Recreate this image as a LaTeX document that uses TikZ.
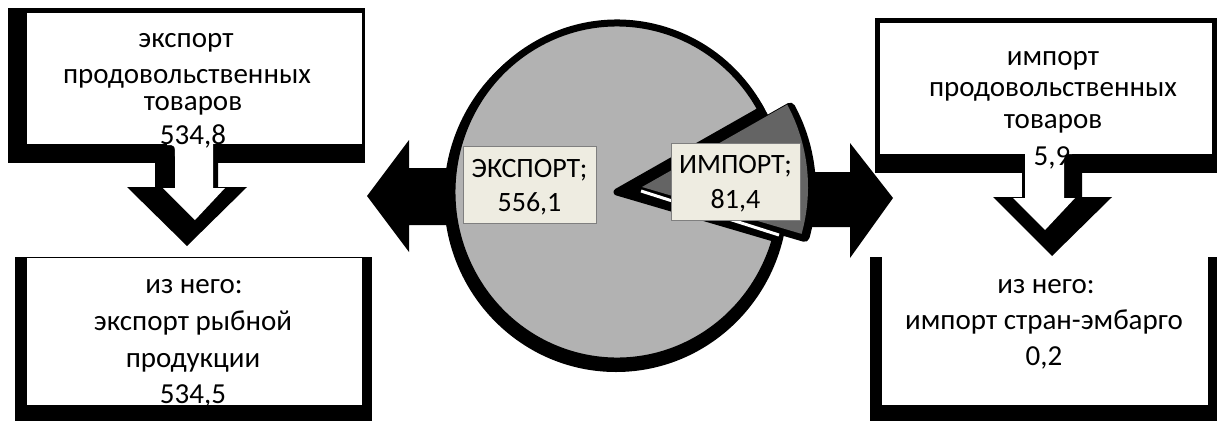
\documentclass[tikz,border=0pt]{standalone}
\usepackage{fontspec}
\setmainfont{Carlito}
\definecolor{piegray}{HTML}{B2B2B2}
\definecolor{slicegray}{HTML}{646464}
\definecolor{labelfill}{HTML}{EEECE1}
\definecolor{labelborder}{HTML}{7F7F7F}
\begin{document}
\begin{tikzpicture}[x=1pt,y=-1pt,
  txt/.style={anchor=base, inner sep=0pt, font=\fontsize{29}{34}\selectfont},
  lbltxt/.style={anchor=base, inner sep=0pt, font=\fontsize{28}{34}\selectfont},
  lbl/.style={draw=labelborder, fill=labelfill, line width=1pt, inner sep=0pt},
  blackpart/.style={fill=black},
  whitepart/.style={fill=white},
  bigsector/.style={fill=piegray, draw=black, line width=7pt, line join=round},
  slicepart/.style={fill=slicegray},
  sliceshadow/.style={fill=black, draw=black, line width=10pt, line join=round},
  gapline/.style={draw=white, line width=3pt}]
\useasboundingbox (0,0) rectangle (1217,421);
\fill[white] (0,0) rectangle (1217,421);

% horizontal arrows
\fill[blackpart] (367,196) -- (409,140) -- (409,168) -- (470,168) -- (470,225)
  -- (409,225) -- (409,252) -- cycle;
\fill[blackpart] (893,198) -- (850,143) -- (850,172) -- (780,172) -- (780,227)
  -- (850,227) -- (850,258) -- cycle;

% pie
\fill[blackpart] (616,197) ellipse [x radius=172pt, y radius=175pt];
\filldraw[bigsector] (617,192) -- ++(29:165pt and 169pt)
  arc[start angle=29, end angle=344, x radius=165pt, y radius=169pt] -- cycle;
\filldraw[sliceshadow, shift={(3,3)}] (642,187) -- ++(-16:166pt and 170pt)
  arc[start angle=-16, end angle=29, x radius=166pt, y radius=170pt] -- cycle;
\draw[gapline] (641,191) -- (779,235);
\fill[slicepart] (642,187) -- ++(-16:166pt and 170pt)
  arc[start angle=-16, end angle=29, x radius=166pt, y radius=170pt] -- cycle;

\node[lbl, minimum width=133pt, minimum height=77pt] (exp) at (529.5,184.5) {};
\node[lbltxt] (exp1) at (529.5,177) {ЭКСПОРТ;};
\node[lbltxt] (exp2) at (529.5,211) {556,1};
\node[lbl, minimum width=129pt, minimum height=77pt] (imp) at (735.5,181.5) {};
\node[lbltxt] (imp1) at (735.5,173) {ИМПОРТ;};
\node[lbltxt] (imp2) at (735.5,208) {81,4};

% boxes: black parts
\fill[blackpart] (8,8) rectangle (365,163);
\fill[blackpart] (155,150) -- (155,187) -- (127,187) -- (187,246) -- (247,187)
  -- (218,187) -- (218,150) -- cycle;
\fill[blackpart] (15,257) rectangle (372,421);
\fill[blackpart] (875,18) rectangle (1217,173);
\fill[blackpart] (1022,160) -- (1022,197) -- (993,197) -- (1052,256) -- (1112,197)
  -- (1082,197) -- (1082,160) -- cycle;
\fill[blackpart] (870,257) rectangle (1217,421);

% boxes: white parts
\fill[whitepart] (27,13) rectangle (362,144);
\fill[whitepart] (167,140) -- (167,145) .. controls (175,145) .. (175,157)
  -- (175,188) -- (163,188) -- (195,220) -- (225,188)
  -- (213,188) -- (213,140) -- cycle;
\fill[whitepart] (27,258) rectangle (362,405);
\draw[line width=1pt] (27,257.5) -- (362,257.5);
\fill[whitepart] (880,23) rectangle (1212,154);
\fill[whitepart] (1025,150) -- (1025,198) -- (1013,198) -- (1045,230) -- (1075,198)
  -- (1064,198) -- (1064,167) .. controls (1064,154) .. (1072,154)
  -- (1072,150) -- cycle;
\fill[whitepart] (882,257) rectangle (1208,405);

% texts
\node[txt] (tl1) at (186,47) {экспорт};
\node[txt] (tl2) at (187,83) {продовольственных};
\node[txt] (tl3) at (193,110) {товаров};
\node[txt] (tl4) at (193,144) {534,8};

\node[txt] (bl1) at (194,293) {из него:};
\node[txt] (bl2) at (193,330) {экспорт рыбной};
\node[txt] (bl3) at (193,367) {продукции};
\node[txt] (bl4) at (193,403) {534,5};

\node[txt] (tr1) at (1053,65) {импорт};
\node[txt] (tr2) at (1053,96) {продовольственных};
\node[txt] (tr3) at (1053,128) {товаров};
\node[txt] (tr4) at (1052,165) {5,9};

\node[txt] (br1) at (1046,293) {из него:};
\node[txt] (br2) at (1044,329) {импорт стран-эмбарго};
\node[txt] (br3) at (1044,365) {0,2};
\end{tikzpicture}
\end{document}
